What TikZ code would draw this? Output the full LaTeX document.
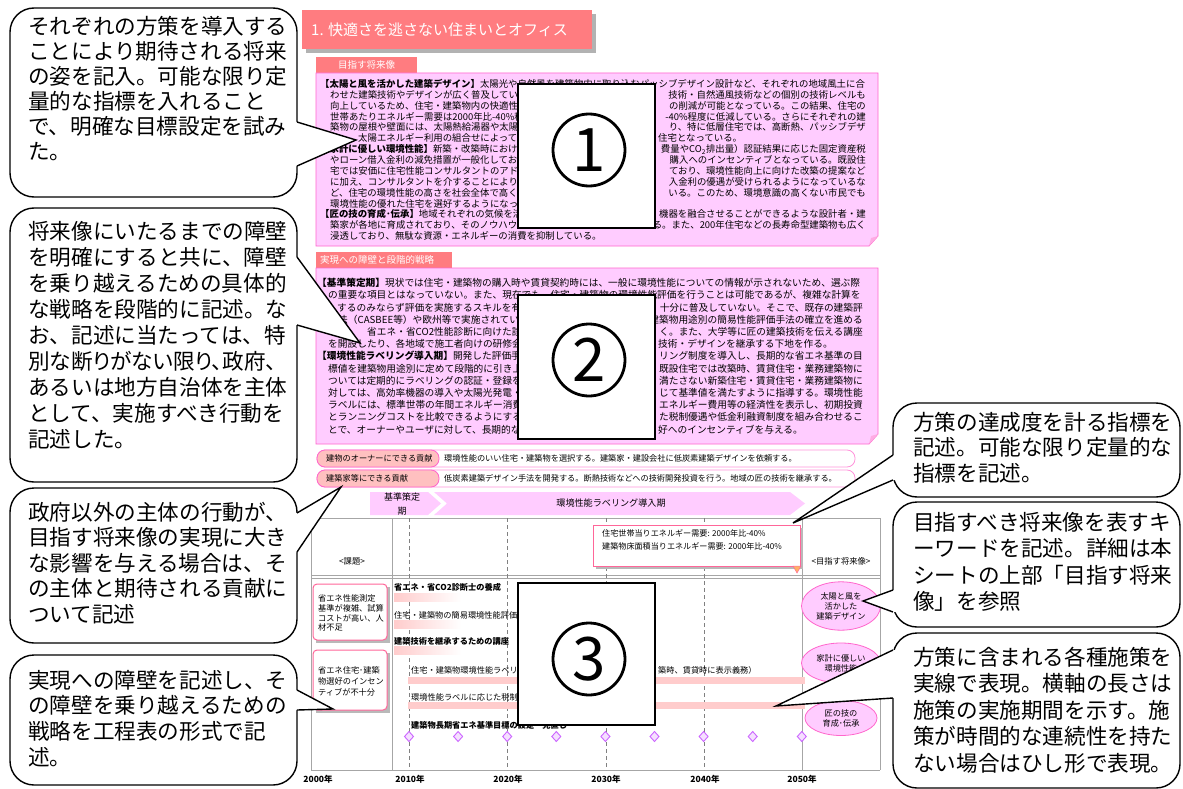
\documentclass[tikz,border=0pt]{standalone}
\usepackage{fontspec}
\setmainfont{Noto Sans CJK JP}
\newfontfamily\jpp[RawFeature=+palt]{Noto Sans CJK JP}
\usetikzlibrary{shapes.geometric}
\newcommand\fsz[1]{\fontsize{#1}{#1}\selectfont}
\newcounter{tn}
\newcommand\tx[4]{\stepcounter{tn}\node[#1] (t\thetn) at (#2,#3) {#4};}
\definecolor{salmon}{HTML}{FF7C80}
\definecolor{pinkfill}{HTML}{FFCCFF}
\definecolor{pinkline}{HTML}{FF66CC}
\definecolor{barpink}{HTML}{FFCCCC}
\definecolor{labelpink}{HTML}{FFC0C0}
\definecolor{gridgray}{HTML}{A6A6A6}
\definecolor{dgray}{HTML}{808080}
\definecolor{vio}{HTML}{CC66FF}
\definecolor{redline}{HTML}{FF6699}
\begin{document}
\begin{tikzpicture}[x=1pt,y=-1pt,
 ta/.style={anchor=base west,inner sep=0,font=\fsz{9.4}},
 tb/.style={anchor=base east,inner sep=0,font=\fsz{9.4}},
 ua/.style={anchor=base west,inner sep=0,font=\fsz{9.7}},
 ub/.style={anchor=base east,inner sep=0,font=\fsz{9.7}},
 sm/.style={anchor=west,inner sep=0,font=\fsz{8.2}},
 smb/.style={anchor=west,inner sep=0,font=\fsz{8.2}\bfseries},
 ctext/.style={anchor=base west,inner sep=0,font=\fsz{21.6}},
 callout/.style={draw=black,line width=1.4pt,fill=white,rounded corners=24pt},
 numbox/.style={draw=black,line width=1.3pt,fill=white},
 grid/.style={draw=gridgray,line width=1pt},
 dgrid/.style={draw=dgray,line width=0.9pt,dash pattern=on 4pt off 3pt},
 pinkbox/.style={fill=pinkfill,draw=pinkline,line width=0.8pt},
 issue/.style={draw=redline,line width=1pt,fill=white,rounded corners=4pt},
 goal/.style={ellipse,draw=pinkline,fill=pinkfill,line width=0.8pt,minimum width=72pt,align=center,font=\fontsize{8.2}{10}\selectfont},
 dia/.style={draw=vio,fill=vio!20,line width=0.9pt},
 year/.style={inner sep=0,font=\fsz{8.5}\bfseries},
 tail/.style={draw=black,line width=1.4pt,line join=miter}
]
\useasboundingbox (0,0) rectangle (1183,789);
\fill[white] (0,0) rectangle (1183,789);

% ---------- title ----------
\fill[gray!60] (306,14) rectangle (596,53);
\fill[salmon] (302,10) rectangle (592,49);
\node[anchor=west,inner sep=0,text=white,font=\fsz{15}] (title) at (311,29.5) {1. 快適さを逃さない住まいとオフィス};

% ---------- box 1 ----------
\fill[salmon] (316,57) rectangle (417,73);
\node[inner sep=0,text=white,font=\fsz{9.5}] (tab1) at (366.5,65) {目指す将来像};
\draw[pinkbox] (316,73) -- (878,73) -- (878,236) -- (869,246) -- (316,246) -- cycle;
\fill[pinkline!55] (869,246) -- (871,238) -- (878,236) -- cycle;

\tx{ta}{320}{87.6}{{\bfseries 【太陽と風を活かした建築デザイン】}太陽光や自然風を建築物内に取り込むパッシブデザイン設計など、それぞれの地域風土に合}
\tx{ta}{330}{98.5}{わせた建築技術やデザインが広く普及している}
\tx{tb}{866}{98.5}{技術・自然通風技術などの個別の技術レベルも}
\tx{ta}{330}{109.3}{向上しているため、住宅・建築物内の快適性を}
\tx{tb}{866}{109.3}{の削減が可能となっている。この結果、住宅の}
\tx{ta}{330}{120.2}{世帯あたりエネルギー需要は2000年比-40\%程}
\tx{tb}{866}{120.2}{-40\%程度に低減している。さらにそれぞれの建}
\tx{ta}{330}{131.0}{築物の屋根や壁面には、太陽熱給湯器や太陽光}
\tx{tb}{866}{131.0}{り、特に低層住宅では、高断熱、パッシブデザ}
\tx{ta}{358}{141.9}{太陽エネルギー利用の組合せによって}
\tx{ta}{658}{141.9}{住宅となっている。}
\tx{ta}{320}{152.8}{{\bfseries 【家計に優しい環境性能】}新築・改築時における}
\tx{tb}{866}{152.8}{費量やCO\textsubscript{2}排出量）認証結果に応じた固定資産税}
\tx{ta}{330}{163.6}{やローン借入金利の減免措置が一般化してお}
\tx{tb}{866}{163.6}{購入へのインセンティブとなっている。既設住}
\tx{ta}{330}{174.5}{宅では安価に住宅性能コンサルタントのアド}
\tx{tb}{866}{174.5}{ており、環境性能向上に向けた改築の提案など}
\tx{ta}{330}{185.3}{に加え、コンサルタントを介することにより}
\tx{tb}{866}{185.3}{入金利の優遇が受けられるようになっているな}
\tx{ta}{330}{196.2}{ど、住宅の環境性能の高さを社会全体で高く}
\tx{tb}{866}{196.2}{いる。このため、環境意識の高くない市民でも}
\tx{ta}{330}{207.1}{環境性能の優れた住宅を選好するようになっ}
\tx{ta}{320}{217.9}{{\bfseries 【匠の技の育成･伝承】}地域それぞれの気候を活}
\tx{tb}{866}{217.9}{機器を融合させることができるような設計者・建}
\tx{ta}{330}{228.8}{築家が各地に育成されており、そのノウハウは}
\tx{tb}{866}{228.8}{る。また、200年住宅などの長寿命型建築物も広く}
\tx{ta}{330}{239.6}{浸透しており、無駄な資源・エネルギーの消費を抑制している。}

% ---------- box 2 ----------
\fill[salmon] (316,252) rectangle (452,268);
\node[anchor=west,inner sep=0,text=white,font=\fsz{9.5}] (tab2) at (320,260) {実現への障壁と段階的戦略};
\draw[pinkbox] (316,268) -- (878,268) -- (878,434) -- (869,444) -- (316,444) -- cycle;
\fill[pinkline!55] (869,444) -- (871,436) -- (878,434) -- cycle;

\tx{ua}{317}{286.7}{{\bfseries 【基準策定期】}現状では住宅・建築物の購入時や賃貸契約時には、一般に環境性能についての情報が示されないため、選ぶ際}
\tx{ua}{328}{298.9}{の重要な項目とはなっていない。また、現在でも、住宅・建築物の環境性能評価を行うことは可能であるが、複雑な計算を}
\tx{ua}{337}{311.1}{するのみならず評価を実施するスキルを有}
\tx{ub}{863}{311.1}{十分に普及していない。そこで、既存の建築評}
\tx{ua}{338}{323.3}{法（CASBEE等）や欧州等で実施されてい}
\tx{ub}{863}{323.3}{建築物用途別の簡易性能評価手法の確立を進める}
\tx{ua}{367}{335.5}{省エネ・省CO2性能診断に向けた診}
\tx{ub}{863}{335.5}{く。また、大学等に匠の建築技術を伝える講座}
\tx{ua}{328}{347.7}{を開設したり、各地域で施工者向けの研修会を}
\tx{ua}{658}{347.7}{技術・デザインを継承する下地を作る。}
\tx{ua}{317}{359.9}{{\bfseries 【環境性能ラベリング導入期】}開発した評価手}
\tx{ub}{863}{359.9}{リング制度を導入し、長期的な省エネ基準の目}
\tx{ua}{328}{372.1}{標値を建築物用途別に定めて段階的に引き上}
\tx{ub}{863}{372.1}{既設住宅では改築時、賃貸住宅・業務建築物に}
\tx{ua}{328}{384.3}{ついては定期的にラベリングの認証・登録を}
\tx{ub}{863}{384.3}{満たさない新築住宅・賃貸住宅・業務建築物に}
\tx{ua}{328}{396.5}{対しては、高効率機器の導入や太陽光発電・}
\tx{ub}{863}{396.5}{じて基準値を満たすように指導する。環境性能}
\tx{ua}{328}{408.7}{ラベルには、標準世帯の年間エネルギー消費}
\tx{ub}{863}{408.7}{エネルギー費用等の経済性を表示し、初期投資}
\tx{ua}{328}{420.9}{とランニングコストを比較できるようにする}
\tx{ub}{863}{420.9}{た税制優遇や低金利融資制度を組み合わせるこ}
\tx{ua}{328}{433.1}{とで、オーナーやユーザに対して、長期的な}
\tx{ua}{658}{433.1}{好へのインセンティブを与える。}

% ---------- contribution rows ----------
\draw[fill=white,draw=pinkline!70,line width=0.8pt,rounded corners=8pt] (317,450) rectangle (855,467);
\draw[fill=labelpink,draw=pinkline,line width=0.8pt,rounded corners=8pt] (317,450) rectangle (439,467);
\node[sm] (r1l) at (326,458.5) {建物のオーナーにできる貢献};
\node[sm] (r1t) at (444,458.5) {環境性能のいい住宅・建築物を選択する。建築家・建設会社に低炭素建築デザインを依頼する。};
\draw[fill=white,draw=pinkline!70,line width=0.8pt,rounded corners=8pt] (317,470) rectangle (855,487);
\draw[fill=labelpink,draw=pinkline,line width=0.8pt,rounded corners=8pt] (317,470) rectangle (439,487);
\node[sm] (r2l) at (326,478.5) {建築家等にできる貢献};
\node[sm] (r2t) at (444,478.5) {低炭素建築デザイン手法を開発する。断熱技術などへの技術開発投資を行う。地域の匠の技術を継承する。};

% ---------- phases ----------
\fill[pinkfill] (370,492) -- (428,492) -- (441,503.5) -- (428,515) -- (370,515) -- cycle;
\fill[pinkfill] (434,492) -- (790,492) -- (805,503.5) -- (790,515) -- (434,515) -- (447,503.5) -- cycle;
\node[inner sep=0,align=center,font=\fontsize{9}{14}\selectfont] (ph1) at (402,504) {基準策定\\期};
\node[inner sep=0,font=\fsz{9.1}] (ph2) at (611,503.5) {環境性能ラベリング導入期};

% ---------- chart grid ----------
\draw[grid] (311,518) -- (880,518);
\draw[grid] (311,770) -- (880,770);
\draw[grid] (311,518) -- (311,770);
\draw[grid] (392,518) -- (392,770);
\draw[grid] (802,518) -- (802,770);
\draw[grid] (880,518) -- (880,770);
\draw[grid] (311,575) -- (880,575);
\draw[grid] (311,578) -- (880,578);
\foreach \x in {409,507,606,704} \draw[dgrid] (\x,518) -- (\x,770);

% indicator
\fill[gray!55] (596,528) rectangle (803,569);
\draw[fill=white,draw=redline,line width=1pt] (593,525) rectangle (800,566);
\node[anchor=west,inner sep=0,font=\fsz{8.1}] (ind1) at (602,533) {住宅世帯当りエネルギー需要: 2000年比-40\%};
\node[anchor=west,inner sep=0,font=\fsz{8.1}] (ind2) at (602,546) {建築物床面積当りエネルギー需要: 2000年比-40\%};
\fill[orange!60,draw=redline,line width=0.5pt] (793,566) -- (801,566) -- (797,573) -- cycle;

\node[inner sep=0,font=\fsz{8.3}] (kadai) at (352,561) {<課題>};
\node[inner sep=0,font=\fsz{8.3}] (mezasu) at (841,561) {<目指す将来像>};

% issues
\fill[gray!55] (316,587) rectangle (390,643);
\draw[issue] (313,584) rectangle (387,640);
\node[anchor=west,inner sep=0,align=left,font=\fontsize{8.2}{9.8}\selectfont] (is1) at (318,613) {省エネ性能測定\\基準が複雑、試算\\コストが高い、人\\材不足};
\fill[gray!55] (316,653) rectangle (390,713);
\draw[issue] (313,650) rectangle (387,710);
\node[anchor=west,inner sep=0,align=left,font=\fontsize{8.2}{11}\selectfont] (is2) at (318,681) {省エネ住宅･建築\\物選好のインセン\\ティブが不十分};

% measures
\node[smb] (m1) at (394,587) {省エネ・省CO2診断士の養成};
\shade[left color=barpink,right color=white] (394,593) rectangle (461,601);
\node[sm] (m2) at (394,615) {住宅・建築物の簡易環境性能評価手法の開発};
\shade[left color=barpink,right color=white] (394,620) rectangle (461,628);
\node[smb] (m3) at (394,641) {建築技術を継承するための講座};
\shade[left color=barpink,right color=white] (394,646) rectangle (461,654);
\node[sm] (m4) at (411,670) {住宅・建築物環境性能ラベリング};
\node[sm] (m4b) at (658,670) {築時、賃貸時に表示義務）};
\fill[barpink] (408,677) rectangle (805,684);
\node[sm] (m5) at (411,697) {環境性能ラベルに応じた税制優遇};
\fill[barpink] (408,702) rectangle (805,709);
\node[smb] (m6) at (411,725) {建築物長期省エネ基準目標の設定・見直し};
\foreach \k in {0,...,8} \draw[dia] ({409+49.1*\k},731.5) -- ({413.5+49.1*\k},736.5) -- ({409+49.1*\k},741.5) -- ({404.5+49.1*\k},736.5) -- cycle;

% goals
\node[goal,minimum height=38pt] (g1) at (841,606) {太陽と風を\\活かした\\建築デザイン};
\node[goal,minimum height=40pt] (g2) at (841,663) {家計に優しい\\環境性能};
\node[goal,minimum height=35pt] (g3) at (841,718) {匠の技の\\育成･伝承};

% years
\node[year] (y0) at (318,779) {2000年};
\node[year] (y1) at (410,779) {2010年};
\node[year] (y2) at (508,779) {2020年};
\node[year] (y3) at (606,779) {2030年};
\node[year] (y4) at (705,779) {2040年};
\node[year] (y5) at (802,779) {2050年};

% ---------- number boxes ----------
\draw[numbox] (518,84) rectangle (655,228);
\draw[line width=2.8pt] (589,150) circle[radius=36pt];
\node[inner sep=0,font=\fsz{60}] (n1) at (589,150) {1};
\draw[numbox] (518,295) rectangle (655,439);
\draw[line width=2.8pt] (589,360) circle[radius=36pt];
\node[inner sep=0,font=\fsz{60}] (n2) at (589,360) {2};
\draw[numbox] (518,583) rectangle (655,725);
\draw[line width=2.8pt] (589,659) circle[radius=36pt];
\node[inner sep=0,font=\fsz{60}] (n3) at (589,659) {3};

% ---------- callouts ----------
\draw[callout] (10,8) rectangle (297,197);
\foreach \t [count=\i] in {それぞれの方策を導入する,ことにより期待される将来,の姿を記入。可能な限り定,量的な指標を入れること,で、明確な目標設定を試み,た。}
  \node[ctext] (ca\i) at (28,{35+25*(\i-1)}) {\t};
\draw[callout] (10,208) rectangle (297,482);
\foreach \t [count=\i] in {将来像にいたるまでの障壁,を明確にすると共に、障壁,を乗り越えるための具体的,な戦略を段階的に記述。な,お、記述に当たっては、特,{\jpp 別な断りがない限り、政府、},あるいは地方自治体を主体,として、実施すべき行動を,記述した。}
  \node[ctext] (cb\i) at (28,{239+26*(\i-1)}) {\t};
\draw[callout] (10,488) rectangle (297,643);
\foreach \t [count=\i] in {政府以外の主体の行動が、,目指す将来像の実現に大き,な影響を与える場合は、そ,の主体と期待される貢献に,ついて記述}
  \node[ctext] (cc\i) at (28,{520+25.5*(\i-1)}) {\t};
\draw[callout] (10,655) rectangle (297,785);
\foreach \t [count=\i] in {実現への障壁を記述し、そ,の障壁を乗り越えるための,戦略を工程表の形式で記,述。}
  \node[ctext] (cd\i) at (28,{688+25.7*(\i-1)}) {\t};
\draw[callout] (893,403) rectangle (1180,497);
\foreach \t [count=\i] in {方策の達成度を計る指標を,記述。可能な限り定量的な,指標を記述。}
  \node[ctext] (ce\i) at (913,{430+25.5*(\i-1)}) {\t};
\draw[callout] (893,502) rectangle (1180,627);
\foreach \t [count=\i] in {目指すべき将来像を表すキ,ーワードを記述。詳細は本,シートの上部「目指す将来,像」を参照}
  \node[ctext] (cf\i) at (913,{530+26.5*(\i-1)}) {\t};
\draw[callout] (893,633) rectangle (1180,788);
\foreach \t [count=\i] in {方策に含まれる各種施策を,実線で表現。横軸の長さは,施策の実施期間を示す。施,策が時間的な連続性を持た,ない場合はひし形で表現。}
  \node[ctext] (cg\i) at (913,{665+26.5*(\i-1)}) {\t};

% ---------- tails ----------
\coordinate (p1) at (356,140);
\coordinate (p2) at (360,343);
\coordinate (p3) at (341,487);
\coordinate (p4) at (333,709);
\coordinate (p5) at (793,523);
\coordinate (p6) at (863,601);
\coordinate (p7) at (776,706);
\fill[white] (294,122) -- (297,122) -- (p1) -- (297,166) -- (294,166) -- cycle;
\draw[tail] (297,122) -- (p1) -- (297,166);
\fill[white] (294,257) -- (297,257) -- (p2) -- (297,325) -- (294,325) -- cycle;
\draw[tail] (297,257) -- (p2) -- (297,325);
\fill[white] (294,513) -- (297,513) -- (p3) -- (297,552) -- (294,552) -- cycle;
\draw[tail] (297,513) -- (p3) -- (297,552);
\fill[white] (294,690) -- (297,690) -- (p4) -- (297,710) -- (294,710) -- cycle;
\draw[tail] (297,690) -- (p4) -- (297,710);
\fill[white] (896,455) -- (893,455) -- (p5) -- (893,480) -- (896,480) -- cycle;
\draw[tail] (893,455) -- (p5) -- (893,480);
\fill[white] (896,590) -- (893,590) -- (p6) -- (893,612) -- (896,612) -- cycle;
\draw[tail] (893,590) -- (p6) -- (893,612);
\fill[white] (896,650) -- (893,650) -- (p7) -- (893,698) -- (896,698) -- cycle;
\draw[tail] (893,650) -- (p7) -- (893,698);
\end{tikzpicture}
\end{document}
